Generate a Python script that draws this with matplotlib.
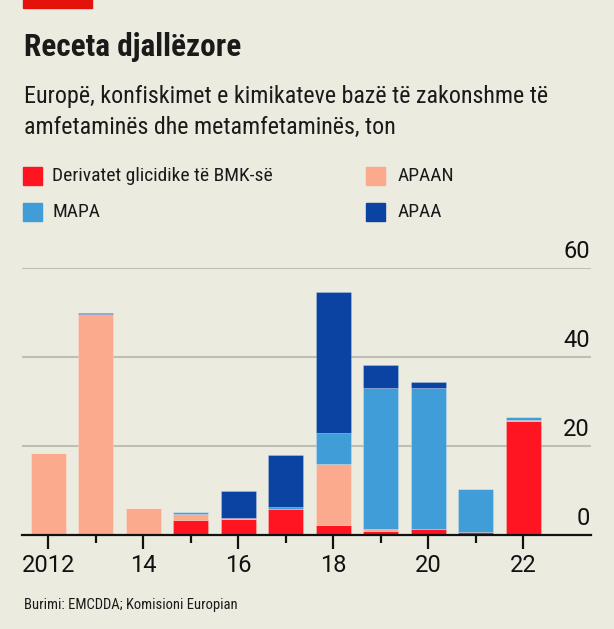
import matplotlib
matplotlib.use("Agg")
import matplotlib.pyplot as plt
from matplotlib import font_manager
from matplotlib.font_manager import FontProperties
import numpy as np

years = [2012, 2013, 2014, 2015, 2016, 2017, 2018, 2019, 2020, 2021, 2022]
bmk = [0.0, 0.0, 0.0, 3.4, 3.6, 5.8, 2.2, 1.0, 1.3, 0.7, 25.6]
apaan = [18.4, 49.7, 6.1, 1.4, 0.3, 0.0, 13.8, 0.3, 0.0, 0.0, 0.3]
mapa = [0.0, 0.0, 0.0, 0.3, 0.0, 0.4, 6.9, 31.7, 31.7, 9.6, 0.7]
apaa = [0.0, 0.3, 0.0, 0.0, 5.9, 11.8, 31.6, 5.2, 1.4, 0.0, 0.0]

series_names = ["Derivatet glicidike të BMK-së", "APAAN", "MAPA", "APAA"]
series_colors = ["#FF1421", "#FCAA8E", "#419DD8", "#0A43A2"]
yticks = [0, 20, 40, 60]
xticks_major = [2012, 2014, 2016, 2018, 2020, 2022]
xtick_labels = ["2012", "14", "16", "18", "20", "22"]

title = "Receta djallëzore"
subtitle = "Europë, konfiskimet e kimikateve bazë të zakonshme të\namfetaminës dhe metamfetaminës, ton"
source = "Burimi: EMCDDA; Komisioni Europian"


def find_condensed(bold):
    prefs = ["Roboto Condensed", "Liberation Sans Narrow", "Open Sans Condensed",
             "Noto Sans Condensed", "DejaVu Sans Condensed", "DejaVu Sans"]
    cands = []
    for f in font_manager.fontManager.ttflist:
        st = str(f.stretch)
        nm = f.name
        is_cond = ("Condensed" in nm or "Narrow" in nm or "condensed" in st
                   or "Condensed" in f.fname or "Narrow" in f.fname)
        if not is_cond:
            continue
        if "Extra" in f.fname or "Ultra" in f.fname or "Semi" in f.fname:
            continue
        w = f.weight if isinstance(f.weight, int) else (700 if "bold" in str(f.weight) else 400)
        isb = w >= 600 or "Bold" in f.fname
        if isb != bold:
            continue
        if "Italic" in f.fname or "Oblique" in f.fname or f.style != "normal":
            continue
        rank = len(prefs)
        for i, p in enumerate(prefs):
            if nm.startswith(p.split()[0]):
                rank = i
                break
        cands.append((rank, f.fname))
    if cands:
        cands.sort()
        return FontProperties(fname=cands[0][1])
    return FontProperties(family="DejaVu Sans", weight="bold" if bold else "normal")


fp_reg = find_condensed(False)
fp_bold = find_condensed(True)
avail = {f.name for f in font_manager.fontManager.ttflist}
light = "Roboto" if "Roboto" in avail else "DejaVu Sans"

bg = "#ECEBE0"
W, H = 614, 629
fig = plt.figure(figsize=(W / 100, H / 100), dpi=100, facecolor=bg)

fig.patches.append(plt.Rectangle((23 / W, 1 - 8 / H), 69 / W, 8 / H,
                                 transform=fig.transFigure, color="#E3120B", zorder=5))


def ftext(x, y, s, fp, size, **kw):
    p = fp.copy()
    p.set_size(size)
    return fig.text(x, y, s, fontproperties=p, color="#1a1a1a", **kw)


ftext(24 / W, 1 - 47 / H, title, fp_bold, 22.5, va="center", ha="left")
ftext(24 / W, 1 - 85 / H, subtitle, fp_reg, 17.3, va="top", ha="left", linespacing=1.47)

leg_pos = [(23, 176), (366, 176), (23, 212), (366, 212)]
for i, ((lx, ly), name, col) in enumerate(zip(leg_pos, series_names, series_colors)):
    fig.patches.append(plt.Rectangle((lx / W, 1 - (ly + 9) / H), 19 / W, 18 / H,
                                     transform=fig.transFigure, color=col))
    off = 29 if lx < 100 else 32
    ftext((lx + off) / W, 1 - ly / H, name, fp_reg, 14, va="center", ha="left")

ftext(24 / W, 1 - 605 / H, source, fp_reg, 10.5, va="center", ha="left")

ax = fig.add_axes([22 / W, (H - 535) / H, (591 - 22) / W, (535 - 268) / H])
ax.set_facecolor(bg)
x = np.array(years)
bottom = np.zeros(len(years))
for vals, col in zip([bmk, apaan, mapa, apaa], series_colors):
    ax.bar(x, vals, bottom=bottom, width=0.74, color=col, zorder=3,
           edgecolor=(1, 1, 1, 0.25), linewidth=0.6)
    bottom += np.array(vals)

ax.set_xlim(2011.45, 2023.43)
ax.set_ylim(0, 60)
for s in ["top", "left", "right"]:
    ax.spines[s].set_visible(False)
ax.spines["bottom"].set_color("#111111")
ax.spines["bottom"].set_linewidth(1.6)
ax.spines["bottom"].set_zorder(4)

for v in yticks[1:]:
    ax.axhline(v, color="#BFBEB5", linewidth=1.5, zorder=1)
ax.set_yticks([])
for v in yticks:
    ax.text(2023.41, v + 1.1, str(v), ha="right", va="bottom", fontsize=17,
            family=light, fontweight="normal", color="#111111")

ax.set_xticks(xticks_major)
ax.set_xticklabels(xtick_labels, family=light, fontweight="normal", fontsize=17, color="#111111")
ax.set_xticks([y for y in years if y not in xticks_major], minor=True)
ax.tick_params(axis="x", which="major", length=10, width=1.6, color="#111111", pad=4)
ax.tick_params(axis="x", which="minor", length=6, width=1.6, color="#111111")

fig.savefig("out.png", dpi=100, facecolor=bg)
